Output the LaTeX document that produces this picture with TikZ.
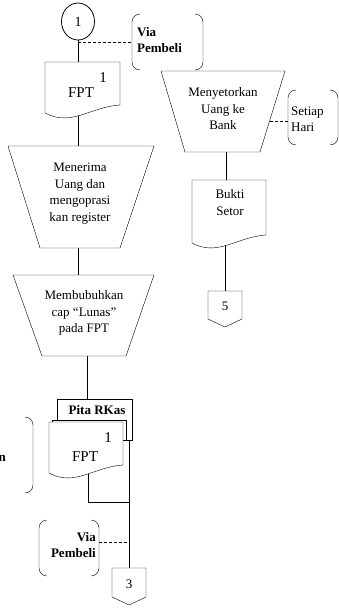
\documentclass[tikz,border=0pt]{standalone}
\usepackage{fontspec}
\setmainfont{Liberation Serif}
\usetikzlibrary{shapes.geometric,calc}
\pgfdeclarelayer{bg}
\pgfsetlayers{bg,main}
\newcommand\mydoc[1]{\draw[fill=white] (#1.north west) -- (#1.north east) -- ($(#1.south east)+(0,-8)$) .. controls ($(#1.south west)!0.6!(#1.south east)+(0,-6)$) and ($(#1.south west)!0.35!(#1.south east)+(0,14)$) .. (#1.south west) -- cycle;}
\newcommand\mytrap[3]{\draw[fill=white] (#1.north west) -- (#1.north east) -- ($(#1.south east)+(-#3,0)$) -- ($(#1.south west)+(#2,0)$) -- cycle;}
\newcommand\myoff[1]{\draw[fill=white] (#1.north west) -- (#1.north east) -- ($(#1.south east)+(0,-8)$) -- (#1.south) -- ($(#1.south west)+(0,-8)$) -- cycle;}
\newcommand\mylbr[1]{\draw[rounded corners=8pt] ($(#1.north west)+(8,0)$) -- (#1.north west) -- (#1.south west) -- ($(#1.south west)+(8,0)$);}
\newcommand\myrbr[1]{\draw[rounded corners=8pt] ($(#1.north east)+(-8,0)$) -- (#1.north east) -- (#1.south east) -- ($(#1.south east)+(-8,0)$);}
\begin{document}
\begin{tikzpicture}[x=1pt,y=-1pt,line width=0.8pt,
  area/.style={draw=none,inner sep=0pt,outer sep=0pt},
  txt/.style={font=\fontsize{13}{16.5}\selectfont,align=center,inner sep=0pt},
  btxt/.style={font=\fontsize{13}{15.5}\selectfont\bfseries,inner sep=0pt},
  big/.style={font=\fontsize{15}{17}\selectfont,inner sep=0pt},
  dashline/.style={dash pattern=on 3pt off 2pt,line width=0.7pt}]
\useasboundingbox (0,0) rectangle (339,608);

% ---- area nodes ----
\node[area,minimum width=75pt,minimum height=51pt] (d1) at (82.5,87.5) {};
\node[area,minimum width=146pt,minimum height=102pt] (t1) at (81,197) {};
\node[area,minimum width=141pt,minimum height=81pt] (t2) at (83.5,315.5) {};
\node[area,minimum width=75pt,minimum height=41pt] (p) at (94.5,419.5) {};
\node[area,minimum width=74pt,minimum height=20pt] (sh) at (89,430) {};
\node[area,minimum width=74pt,minimum height=51pt] (d2) at (86,447.5) {};
\node[area,minimum width=34pt,minimum height=37pt] (o3) at (129,586.5) {};
\node[area,minimum width=124pt,minimum height=81pt] (t3) at (223,111.5) {};
\node[area,minimum width=74pt,minimum height=63pt] (d3) at (229,211.5) {};
\node[area,minimum width=34pt,minimum height=36pt] (o5) at (225,309) {};
\node[area,minimum width=71pt,minimum height=56pt] (b1) at (167.5,42) {};
\node[area,minimum width=60pt,minimum height=56pt] (b2) at (69,548) {};
\node[area,minimum width=50pt,minimum height=55pt] (b3) at (313,117.5) {};
\node[area,minimum width=60pt,minimum height=76pt] (b4) at (3,455) {};
\node[draw,fill=white,ellipse,minimum width=33pt,minimum height=37pt,inner sep=0pt,font=\fontsize{14}{16}\selectfont] (c1) at (78,21.5) {1};

% ---- connectors ----
\coordinate (k1) at ($(t2.south)+(3.5,0)$);
\coordinate (k2) at (88,502);
\coordinate (k3) at ($(b2.east)+(0,-6)$);
\coordinate (k4) at ($(t3.south)+(3,0)$);
\coordinate (t3br) at ($(t3.south east)+(-25,0)$);
\coordinate (k5) at ($(t3.north east)!0.617!(t3br)$);
\begin{pgfonlayer}{bg}
\draw (c1.south) -- (c1.south |- d1.north);
\draw[dashline] (c1.south |- b1.west) -- (b1.west);
\draw (c1.south |- d1.south) -- (c1.south |- t1.north);
\draw (c1.south |- t1.south) -- (c1.south |- t2.north);
\draw (k1) -- (k1 |- p.north);
\draw (d2.south -| k2) -- (k2) -- (k2 -| o3.north);
\draw (p.south -| o3.north) -- (o3.north);
\draw[dashline] (k3) -- (k3 -| o3.north);
\draw (k4) -- (k4 |- d3.north);
\draw[dashline] (k5) -- (k5 -| b3.west);
\draw (o5.north |- d3.south) -- (o5.north);
\end{pgfonlayer}

% ---- shapes ----
\mydoc{d1}
\mytrap{t1}{32}{34}
\mytrap{t2}{29}{28}
\draw[fill=white] (p.south west) rectangle (p.north east);
\draw[fill=white] (sh.south west) rectangle (sh.north east);
\mydoc{d2}
\myoff{o3}
\mytrap{t3}{24}{25}
\mydoc{d3}
\myoff{o5}
\mylbr{b1}\myrbr{b1}
\mylbr{b2}\myrbr{b2}
\mylbr{b3}\myrbr{b3}
\myrbr{b4}

% ---- texts ----
\node[big] (d1n) at (103,78) {1};
\node[big] (d1t) at (81,93) {FPT};
\node[txt] (t1t) at (80,193.5) {Menerima\\Uang dan\\mengoprasi\\kan register};
\node[txt] (t2t) at (84,313) {Membubuhkan\\cap “Lunas”\\pada FPT};
\node[btxt] (pt) at (97,410) {Pita RKas};
\node[big] (d2n) at (108,438) {1};
\node[big] (d2t) at (85,457) {FPT};
\node[txt] (o3t) at (129,584) {3};
\node[btxt,align=right,anchor=east] (b2t) at (96,545) {Via\\Pembeli};
\node[btxt,align=left,anchor=west] (b1t) at (137,40) {Via\\Pembeli};
\node[txt] (t3t) at (223,109) {Menyetorkan\\Uang ke\\Bank};
\node[txt,align=left,anchor=west,font=\fontsize{13}{15.5}\selectfont] (b3t) at (291,119.5) {Setiap\\Hari};
\node[txt] (d3t) at (230,202.5) {Bukti\\Setor};
\node[txt] (o5t) at (225,306) {5};
\node[btxt,anchor=east] (nt) at (6,458) {n};
\end{tikzpicture}
\end{document}
